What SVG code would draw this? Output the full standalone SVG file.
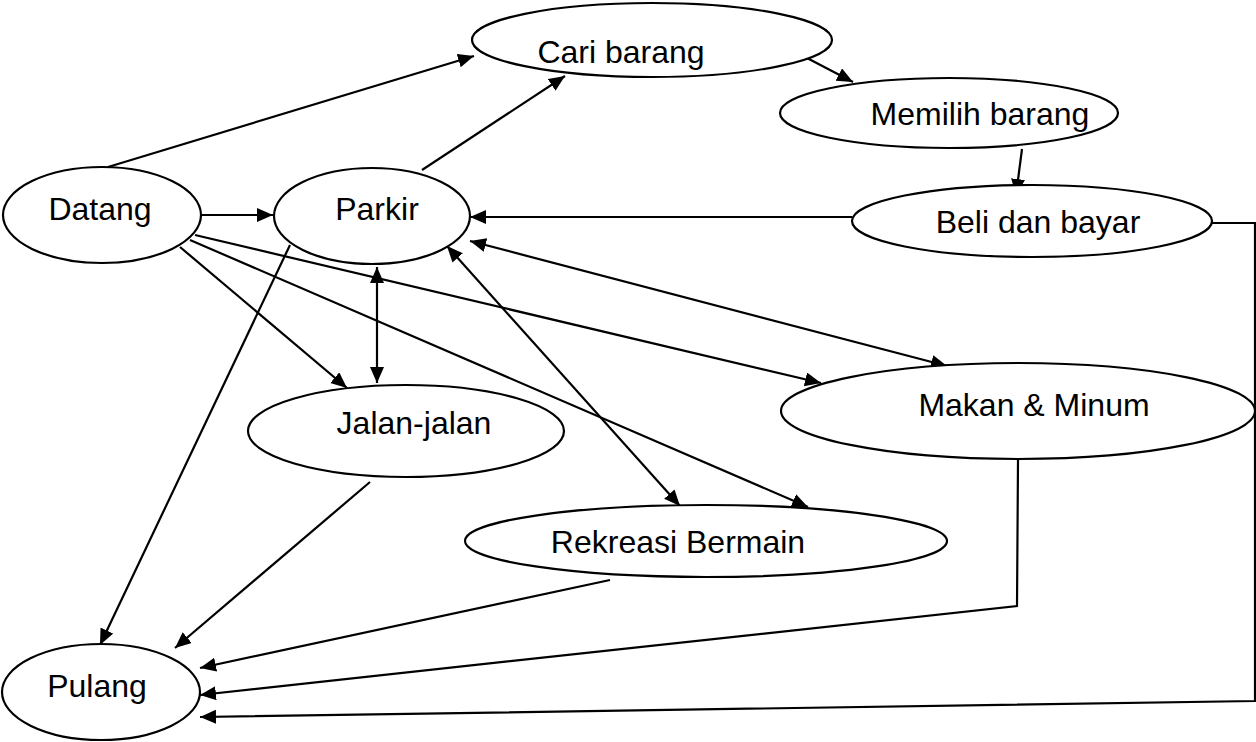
<svg xmlns="http://www.w3.org/2000/svg" width="1256" height="742" viewBox="0 0 1256 742">
  <style>
    .node ellipse { fill: #ffffff; stroke: #000000; stroke-width: 2.2; }
    .node text { font-family: "Liberation Sans", Arial, sans-serif; font-size: 32px; fill: #000000; text-anchor: middle; }
    .edges path, .edges line, .edges polyline { fill: none; stroke: #000000; stroke-width: 2.2; }
  </style>
  <defs>
    <marker id="arrow" markerUnits="userSpaceOnUse" markerWidth="18" markerHeight="16" refX="16" refY="7" orient="auto-start-reverse" viewBox="0 0 18 16">
      <path d="M0,0 L16,7 L0,14 z" fill="#000000"/>
    </marker>
  </defs>
  <rect width="1256" height="742" fill="#ffffff"/>

  <!-- connectors -->
  <g class="edges" id="edges">
    <line x1="108" y1="167" x2="474" y2="56" marker-end="url(#arrow)"/>
    <line x1="422" y1="170" x2="565" y2="76" marker-end="url(#arrow)"/>
    <line x1="807" y1="58" x2="853" y2="82" marker-end="url(#arrow)"/>
    <line x1="1022" y1="149" x2="1016" y2="195" marker-end="url(#arrow)"/>
    <line x1="852" y1="217" x2="470" y2="217" marker-end="url(#arrow)"/>
    <polyline points="1212,223 1255,223 1255,701 200,717" marker-end="url(#arrow)"/>
    <polyline points="1018,460 1017,606 200,695" marker-end="url(#arrow)"/>
    <line x1="610" y1="580" x2="200" y2="668" marker-end="url(#arrow)"/>
    <line x1="370" y1="482" x2="175" y2="648" marker-end="url(#arrow)"/>
    <line x1="290" y1="245" x2="100" y2="645" marker-end="url(#arrow)"/>
    <line x1="202" y1="215" x2="273" y2="215" marker-end="url(#arrow)"/>
    <line x1="377" y1="267" x2="377" y2="383" marker-start="url(#arrow)" marker-end="url(#arrow)"/>
    <line x1="180" y1="247" x2="347" y2="388" marker-end="url(#arrow)"/>
    <line x1="190" y1="240" x2="808" y2="507" marker-end="url(#arrow)"/>
    <line x1="195" y1="235" x2="821" y2="383" marker-end="url(#arrow)"/>
    <line x1="470" y1="241" x2="947" y2="366" marker-start="url(#arrow)" marker-end="url(#arrow)"/>
    <line x1="447" y1="246" x2="680" y2="506" marker-start="url(#arrow)" marker-end="url(#arrow)"/>
  </g>

  <!-- nodes -->
  <g class="node" id="datang">
    <ellipse cx="102" cy="215" rx="99" ry="48"/>
    <text x="100" y="220">Datang</text>
  </g>
  <g class="node" id="parkir">
    <ellipse cx="372" cy="216" rx="98" ry="48"/>
    <text x="377" y="220">Parkir</text>
  </g>
  <g class="node" id="cari-barang">
    <ellipse cx="652" cy="40" rx="180" ry="37"/>
    <text x="621" y="63">Cari barang</text>
  </g>
  <g class="node" id="memilih-barang">
    <ellipse cx="949" cy="113" rx="169" ry="35"/>
    <text x="980" y="125">Memilih barang</text>
  </g>
  <g class="node" id="beli-dan-bayar">
    <ellipse cx="1032" cy="221" rx="180" ry="36"/>
    <text x="1038" y="233">Beli dan bayar</text>
  </g>
  <g class="node" id="makan-minum">
    <ellipse cx="1018" cy="411" rx="237" ry="48"/>
    <text x="1034" y="416">Makan &amp; Minum</text>
  </g>
  <g class="node" id="jalan-jalan">
    <ellipse cx="406" cy="431" rx="158" ry="46"/>
    <text x="414" y="434">Jalan-jalan</text>
  </g>
  <g class="node" id="rekreasi-bermain">
    <ellipse cx="706" cy="541" rx="241" ry="36"/>
    <text x="678" y="553">Rekreasi Bermain</text>
  </g>
  <g class="node" id="pulang">
    <ellipse cx="101" cy="692" rx="99" ry="48"/>
    <text x="97" y="697">Pulang</text>
  </g>
</svg>
